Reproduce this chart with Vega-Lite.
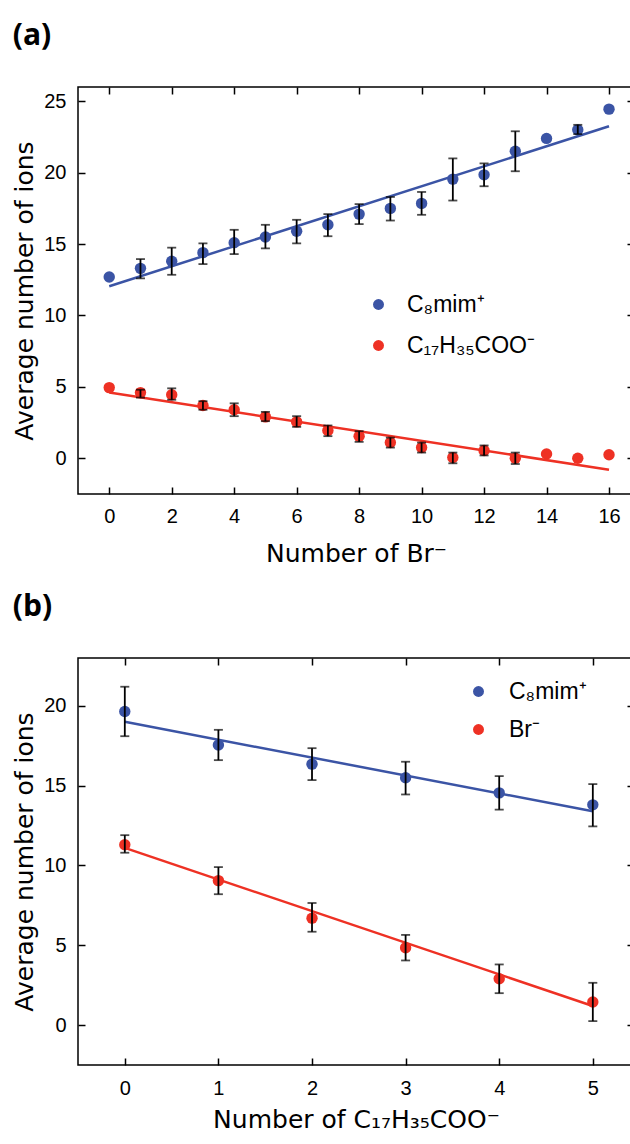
{
  "$schema": "https://vega.github.io/schema/vega-lite/v6.json",
  "padding": {"left": 12, "top": 20, "right": 0, "bottom": 0},
  "background": "white",
  "config": {
    "view": {"stroke": "black", "strokeWidth": 1.5},
    "axis": {
      "grid": false, "domain": false,
      "tickColor": "black", "tickSize": -7, "tickWidth": 1.5,
      "labelFont": "Liberation Sans", "labelFontSize": 20, "labelColor": "black", "labelPadding": 19,
      "titleFont": "DejaVu Sans", "titleFontSize": 25, "titleFontWeight": "normal", "titleColor": "black", "titlePadding": 6
    },
    "title": {"font": "Open Sans", "fontSize": 30, "fontWeight": "bold", "anchor": "start", "frame": "bounds", "color": "black", "offset": 35}
  },
  "datasets": {
    "a_pts": [
      {"series": "C₈mim⁺", "n": 0, "avg": 12.7, "lo": null, "hi": null},
      {"series": "C₈mim⁺", "n": 1, "avg": 13.3, "lo": 12.6, "hi": 13.95},
      {"series": "C₈mim⁺", "n": 2, "avg": 13.8, "lo": 12.85, "hi": 14.75},
      {"series": "C₈mim⁺", "n": 3, "avg": 14.4, "lo": 13.6, "hi": 15.05},
      {"series": "C₈mim⁺", "n": 4, "avg": 15.1, "lo": 14.3, "hi": 16.0},
      {"series": "C₈mim⁺", "n": 5, "avg": 15.5, "lo": 14.7, "hi": 16.35},
      {"series": "C₈mim⁺", "n": 6, "avg": 15.9, "lo": 15.05, "hi": 16.7},
      {"series": "C₈mim⁺", "n": 7, "avg": 16.35, "lo": 15.55, "hi": 17.1},
      {"series": "C₈mim⁺", "n": 8, "avg": 17.1, "lo": 16.4, "hi": 17.8},
      {"series": "C₈mim⁺", "n": 9, "avg": 17.5, "lo": 16.65, "hi": 18.3},
      {"series": "C₈mim⁺", "n": 10, "avg": 17.85, "lo": 17.05, "hi": 18.65},
      {"series": "C₈mim⁺", "n": 11, "avg": 19.55, "lo": 18.05, "hi": 21.0},
      {"series": "C₈mim⁺", "n": 12, "avg": 19.85, "lo": 19.05, "hi": 20.65},
      {"series": "C₈mim⁺", "n": 13, "avg": 21.5, "lo": 20.1, "hi": 22.9},
      {"series": "C₈mim⁺", "n": 14, "avg": 22.4, "lo": null, "hi": null},
      {"series": "C₈mim⁺", "n": 15, "avg": 23.0, "lo": 22.7, "hi": 23.35},
      {"series": "C₈mim⁺", "n": 16, "avg": 24.45, "lo": null, "hi": null},
      {"series": "C₁₇H₃₅COO⁻", "n": 0, "avg": 4.95, "lo": null, "hi": null},
      {"series": "C₁₇H₃₅COO⁻", "n": 1, "avg": 4.6, "lo": 4.25, "hi": 4.8},
      {"series": "C₁₇H₃₅COO⁻", "n": 2, "avg": 4.45, "lo": 4.1, "hi": 4.9},
      {"series": "C₁₇H₃₅COO⁻", "n": 3, "avg": 3.7, "lo": 3.4, "hi": 4.0},
      {"series": "C₁₇H₃₅COO⁻", "n": 4, "avg": 3.4, "lo": 2.95, "hi": 3.85},
      {"series": "C₁₇H₃₅COO⁻", "n": 5, "avg": 2.9, "lo": 2.6, "hi": 3.25},
      {"series": "C₁₇H₃₅COO⁻", "n": 6, "avg": 2.55, "lo": 2.2, "hi": 2.95},
      {"series": "C₁₇H₃₅COO⁻", "n": 7, "avg": 1.95, "lo": 1.55, "hi": 2.3},
      {"series": "C₁₇H₃₅COO⁻", "n": 8, "avg": 1.55, "lo": 1.15, "hi": 1.9},
      {"series": "C₁₇H₃₅COO⁻", "n": 9, "avg": 1.1, "lo": 0.75, "hi": 1.45},
      {"series": "C₁₇H₃₅COO⁻", "n": 10, "avg": 0.75, "lo": 0.4, "hi": 1.1},
      {"series": "C₁₇H₃₅COO⁻", "n": 11, "avg": 0.05, "lo": -0.35, "hi": 0.4},
      {"series": "C₁₇H₃₅COO⁻", "n": 12, "avg": 0.55, "lo": 0.2, "hi": 0.9},
      {"series": "C₁₇H₃₅COO⁻", "n": 13, "avg": 0.0, "lo": -0.4, "hi": 0.4},
      {"series": "C₁₇H₃₅COO⁻", "n": 14, "avg": 0.3, "lo": null, "hi": null},
      {"series": "C₁₇H₃₅COO⁻", "n": 15, "avg": 0.0, "lo": null, "hi": null},
      {"series": "C₁₇H₃₅COO⁻", "n": 16, "avg": 0.25, "lo": null, "hi": null}
    ],
    "a_fit": [
      {"series": "C₈mim⁺", "n": 0, "fit": 12.05},
      {"series": "C₈mim⁺", "n": 16, "fit": 23.25},
      {"series": "C₁₇H₃₅COO⁻", "n": 0, "fit": 4.6},
      {"series": "C₁₇H₃₅COO⁻", "n": 16, "fit": -0.8}
    ],
    "b_pts": [
      {"series": "C₈mim⁺", "n": 0, "avg": 19.65, "lo": 18.1, "hi": 21.2},
      {"series": "C₈mim⁺", "n": 1, "avg": 17.55, "lo": 16.6, "hi": 18.5},
      {"series": "C₈mim⁺", "n": 2, "avg": 16.35, "lo": 15.35, "hi": 17.35},
      {"series": "C₈mim⁺", "n": 3, "avg": 15.5, "lo": 14.45, "hi": 16.5},
      {"series": "C₈mim⁺", "n": 4, "avg": 14.55, "lo": 13.5, "hi": 15.6},
      {"series": "C₈mim⁺", "n": 5, "avg": 13.8, "lo": 12.45, "hi": 15.1},
      {"series": "Br⁻", "n": 0, "avg": 11.3, "lo": 10.8, "hi": 11.9},
      {"series": "Br⁻", "n": 1, "avg": 9.05, "lo": 8.2, "hi": 9.9},
      {"series": "Br⁻", "n": 2, "avg": 6.7, "lo": 5.85, "hi": 7.65},
      {"series": "Br⁻", "n": 3, "avg": 4.85, "lo": 4.05, "hi": 5.65},
      {"series": "Br⁻", "n": 4, "avg": 2.9, "lo": 2.0, "hi": 3.8},
      {"series": "Br⁻", "n": 5, "avg": 1.45, "lo": 0.25, "hi": 2.65}
    ],
    "b_fit": [
      {"series": "C₈mim⁺", "n": 0, "fit": 19.0},
      {"series": "C₈mim⁺", "n": 5, "fit": 13.4},
      {"series": "Br⁻", "n": 0, "fit": 11.1},
      {"series": "Br⁻", "n": 5, "fit": 1.2}
    ]
  },
  "resolve": {"scale": {"x": "independent", "y": "independent", "color": "independent"}},
  "spacing": 24,
  "vconcat": [
    {
      "title": {"text": "(a)"},
      "width": 556,
      "height": 407,
      "resolve": {"axis": {"x": "independent", "y": "independent"}},
      "layer": [
        {
          "data": {"name": "a_pts"},
          "mark": {"type": "point", "filled": true, "size": 130, "opacity": 1},
          "encoding": {
            "x": {"field": "n", "type": "quantitative", "scale": {"domain": [-1, 16.8], "nice": false, "zero": false}, "axis": {"values": [0, 2, 4, 6, 8, 10, 12, 14, 16], "title": "Number of Br⁻", "titlePadding": 15}},
            "y": {"field": "avg", "type": "quantitative", "scale": {"domain": [-2.5, 26], "nice": false, "zero": false}, "axis": {"values": [0, 5, 10, 15, 20, 25], "title": "Average number of ions"}},
            "color": {"field": "series", "type": "nominal", "sort": null, "scale": {"domain": ["C₈mim⁺", "C₁₇H₃₅COO⁻"], "range": ["#3b54a5", "#ee3124"]},
              "legend": {"orient": "none", "legendX": 289, "legendY": 206, "title": null, "direction": "vertical", "symbolType": "circle", "symbolSize": 120, "symbolStrokeWidth": 0, "labelFont": "Liberation Sans", "labelFontSize": 23, "labelColor": "black", "labelOffset": 17, "rowPadding": 17, "padding": 0}}
          }
        },
        {
          "data": {"name": "a_fit"},
          "mark": {"type": "line", "strokeWidth": 2.5},
          "encoding": {
            "x": {"field": "n", "type": "quantitative", "axis": null},
            "y": {"field": "fit", "type": "quantitative", "axis": null},
            "color": {"field": "series", "type": "nominal", "legend": null}
          }
        },
        {
          "data": {"name": "a_pts"},
          "transform": [{"filter": "datum.lo != null"}],
          "mark": {"type": "rule", "color": "black", "strokeWidth": 1.8},
          "encoding": {
            "x": {"field": "n", "type": "quantitative", "axis": {"orient": "top", "labels": false, "title": null, "values": [0, 2, 4, 6, 8, 10, 12, 14, 16]}},
            "y": {"field": "lo", "type": "quantitative", "axis": {"orient": "right", "labels": false, "title": null, "values": [0, 5, 10, 15, 20, 25]}},
            "y2": {"field": "hi"}
          }
        },
        {
          "data": {"name": "a_pts"},
          "transform": [{"filter": "datum.lo != null"}],
          "mark": {"type": "tick", "orient": "horizontal", "color": "black", "size": 9, "thickness": 1.8},
          "encoding": {
            "x": {"field": "n", "type": "quantitative", "axis": null},
            "y": {"field": "lo", "type": "quantitative", "axis": null}
          }
        },
        {
          "data": {"name": "a_pts"},
          "transform": [{"filter": "datum.lo != null"}],
          "mark": {"type": "tick", "orient": "horizontal", "color": "black", "size": 9, "thickness": 1.8},
          "encoding": {
            "x": {"field": "n", "type": "quantitative", "axis": null},
            "y": {"field": "hi", "type": "quantitative", "axis": null}
          }
        }
      ]
    },
    {
      "title": {"text": "(b)"},
      "width": 556,
      "height": 407,
      "resolve": {"axis": {"x": "independent", "y": "independent"}},
      "layer": [
        {
          "data": {"name": "b_pts"},
          "mark": {"type": "point", "filled": true, "size": 130, "opacity": 1},
          "encoding": {
            "x": {"field": "n", "type": "quantitative", "scale": {"domain": [-0.5, 5.44], "nice": false, "zero": false}, "axis": {"values": [0, 1, 2, 3, 4, 5], "title": "Number of C₁₇H₃₅COO⁻", "titlePadding": 9, "labelPadding": 20}},
            "y": {"field": "avg", "type": "quantitative", "scale": {"domain": [-2.5, 23], "nice": false, "zero": false}, "axis": {"values": [0, 5, 10, 15, 20], "title": "Average number of ions"}},
            "color": {"field": "series", "type": "nominal", "sort": null, "scale": {"domain": ["C₈mim⁺", "Br⁻"], "range": ["#3b54a5", "#ee3124"]},
              "legend": {"orient": "none", "legendX": 389, "legendY": 22, "title": null, "direction": "vertical", "symbolType": "circle", "symbolSize": 120, "symbolStrokeWidth": 0, "labelFont": "Liberation Sans", "labelFontSize": 23, "labelColor": "black", "labelOffset": 19, "rowPadding": 14, "padding": 0}}
          }
        },
        {
          "data": {"name": "b_fit"},
          "mark": {"type": "line", "strokeWidth": 2.5},
          "encoding": {
            "x": {"field": "n", "type": "quantitative", "axis": null},
            "y": {"field": "fit", "type": "quantitative", "axis": null},
            "color": {"field": "series", "type": "nominal", "legend": null}
          }
        },
        {
          "data": {"name": "b_pts"},
          "mark": {"type": "rule", "color": "black", "strokeWidth": 1.8},
          "encoding": {
            "x": {"field": "n", "type": "quantitative", "axis": {"orient": "top", "labels": false, "title": null, "values": [0, 1, 2, 3, 4, 5]}},
            "y": {"field": "lo", "type": "quantitative", "axis": {"orient": "right", "labels": false, "title": null, "values": [0, 5, 10, 15, 20]}},
            "y2": {"field": "hi"}
          }
        },
        {
          "data": {"name": "b_pts"},
          "mark": {"type": "tick", "orient": "horizontal", "color": "black", "size": 9, "thickness": 1.8},
          "encoding": {
            "x": {"field": "n", "type": "quantitative", "axis": null},
            "y": {"field": "lo", "type": "quantitative", "axis": null}
          }
        },
        {
          "data": {"name": "b_pts"},
          "mark": {"type": "tick", "orient": "horizontal", "color": "black", "size": 9, "thickness": 1.8},
          "encoding": {
            "x": {"field": "n", "type": "quantitative", "axis": null},
            "y": {"field": "hi", "type": "quantitative", "axis": null}
          }
        }
      ]
    }
  ]
}
